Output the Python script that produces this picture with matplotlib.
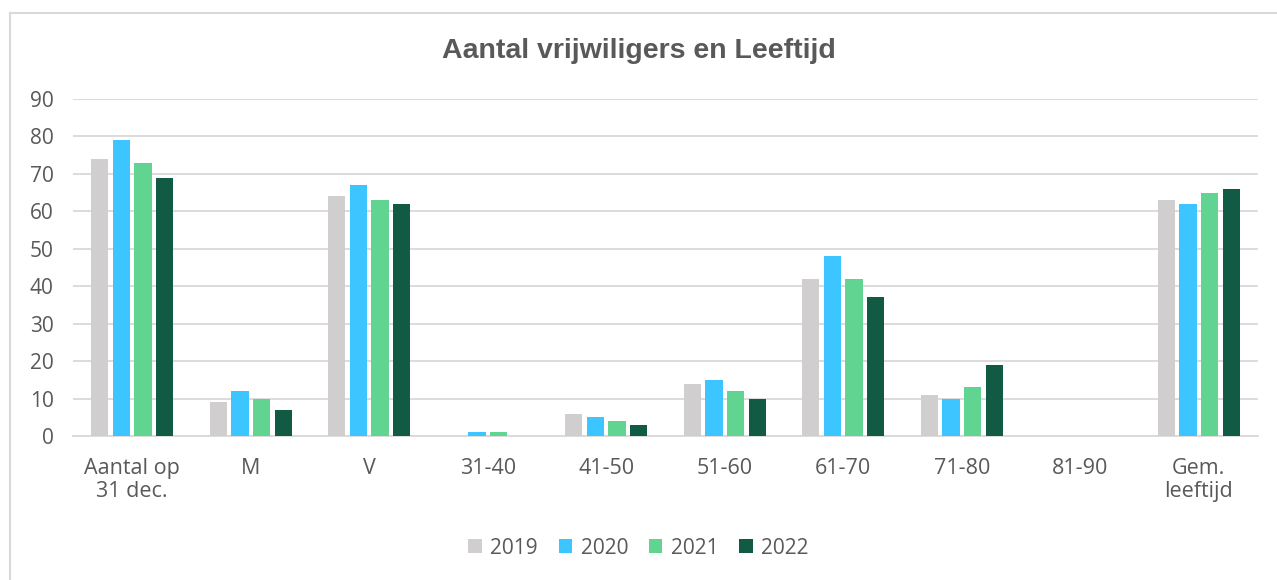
# Bar chart: volunteers and age groups
import numpy as np
import matplotlib.pyplot as plt
from matplotlib.lines import Line2D

# Data
categories = ['Aantal op\n31 dec.', 'M', 'V', '31-40', '41-50', '51-60',
              '61-70', '71-80', '81-90', 'Gem.\nleeftijd']
years = ['2019', '2020', '2021', '2022']
v2019 = [74, 9, 64, 0, 6, 14, 42, 11, 0, 63]
v2020 = [79, 12, 67, 1, 5, 15, 48, 10, 0, 62]
v2021 = [73, 10, 63, 1, 4, 12, 42, 13, 0, 65]
v2022 = [69, 7, 62, 0, 3, 10, 37, 19, 0, 66]
series = [v2019, v2020, v2021, v2022]
colors = ['#D0CECE', '#3DC5FF', '#62D491', '#115A43']

TEXT_COLOR = '#595959'
GRID_COLOR = '#D9D9D9'

plt.rcParams['font.family'] = ['Open Sans', 'DejaVu Sans']

fig = plt.figure(figsize=(12.77, 5.80), dpi=100)
ax = fig.add_axes([73 / 1277, 1 - 436 / 580, (1258 - 73) / 1277, (436 - 99) / 580])

x = np.arange(len(categories))
slot = 0.182
width = 0.145
for i, (vals, col, yr) in enumerate(zip(series, colors, years)):
    ax.bar(x + (i - 1.5) * slot, vals, width=width, color=col, label=yr, zorder=3)

ax.set_xlim(-0.5, len(categories) - 0.5)
ax.set_ylim(0, 90)
ax.set_yticks(range(0, 91, 10))
ax.set_xticks(x)
ax.set_xticklabels(categories, fontsize=15.5, color=TEXT_COLOR, linespacing=1.1)
ax.tick_params(axis='y', labelsize=15, labelcolor=TEXT_COLOR, length=0, pad=14)
ax.tick_params(axis='x', length=0, pad=16)
ax.grid(axis='y', color=GRID_COLOR, linewidth=1.3, zorder=0)
for side in ['top', 'right', 'left']:
    ax.spines[side].set_visible(False)
ax.spines['bottom'].set_color(GRID_COLOR)
ax.spines['bottom'].set_linewidth(1.3)

fig.text(0.5, 1 - 51 / 580, 'Aantal vrijwiligers en Leeftijd', ha='center', va='center',
         fontsize=20.5, fontweight='bold', color=TEXT_COLOR,
         family=['Liberation Sans', 'DejaVu Sans'])

fig.legend(loc='center', bbox_to_anchor=(0.5, 1 - 548 / 580), ncol=4, frameon=False,
           fontsize=15, labelcolor=TEXT_COLOR, handlelength=0.65, handleheight=0.65,
           handletextpad=0.4, columnspacing=1.0)

# Chart border (left and top visible)
fig.add_artist(Line2D([9.5 / 1277, 9.5 / 1277], [0, 1 - 13 / 580], color=GRID_COLOR, linewidth=1.5))
fig.add_artist(Line2D([9.5 / 1277, 1], [1 - 13 / 580, 1 - 13 / 580], color=GRID_COLOR, linewidth=1.5))

fig.savefig('out.png', dpi=100)
